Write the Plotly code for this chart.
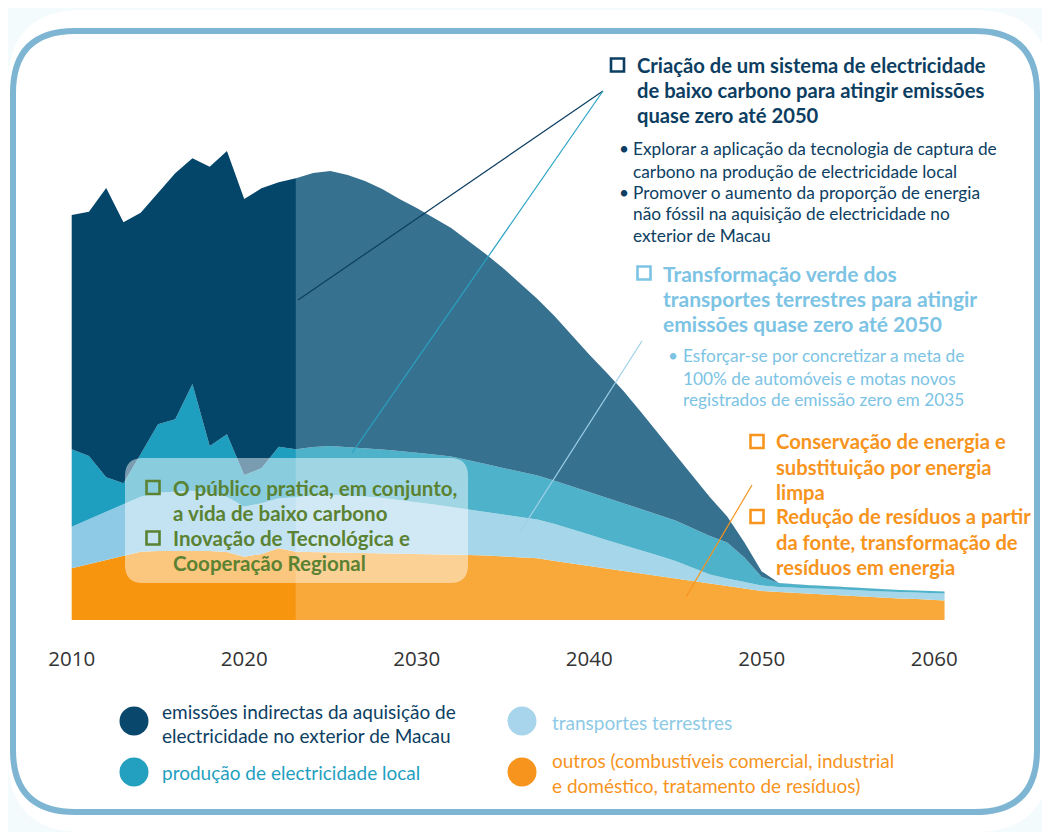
import plotly.graph_objects as go

# The page adds an 8px body margin, so the figure is drawn 8px in from the window.
OFF = 8
W, H = 1050 - OFF, 832 - OFF

# ---------------- data (arbitrary emission units) ----------------
years_hist = list(range(2010, 2024))
hist_other = [51.7, 56, 60, 64, 68.3, 69, 69, 69, 69, 68, 63.3, 66, 71.7, 68.3]
hist_transport = [41.6, 45, 48.3, 52, 55, 58.3, 59.5, 60.3, 58, 55.3, 50, 50.7, 50, 54.4]
hist_local = [77.4, 63, 34.4, 20.7, 42.7, 68.4, 72.2, 106.7, 47, 62.4, 31.7, 35, 51.6, 48]
hist_import = [234.3, 244.3, 289.3, 261, 241.3, 231.6, 246, 225.7, 279.3, 283.3, 276, 280, 264.4, 271]

years_proj = list(range(2023, 2061)) + [2060.6]
proj_other = [68.3, 68, 67.5, 67.5, 67, 67, 66.5, 66.5, 66, 65.5, 65, 64.5, 63.5, 62.7, 61.7,
              59, 56.5, 54, 51.5, 49, 46.5, 43.5, 41, 38.5, 36, 33.5, 31, 29,
              28, 27, 26, 25, 24, 23, 22, 21.5, 21, 20, 19.5]
proj_transport = [54.4, 56.5, 57.5, 57, 56.5, 55, 53.5, 51.5, 49.5, 47.5, 45.5, 43.5, 42, 40.3, 38.8,
                  37, 34.5, 31.5, 28.5, 26, 23, 21, 18, 13.5, 9.5, 8, 7, 5.5,
                  5, 5, 5.5, 6, 6, 6, 6.5, 6.5, 6.5, 7, 7]
proj_local = [48, 48.5, 49, 48.5, 48.2, 48.4, 49, 49.5, 49.9, 50.4, 49.5, 48, 46.5, 45.3, 44,
              43.3, 42.7, 42.7, 42.6, 42, 41.7, 40.8, 40.4, 39.9, 38.5, 35.9, 24.4, 8.5,
              4, 3.5, 3, 2.5, 2.5, 2.5, 2, 2, 2, 2, 2]
proj_import = [271, 274, 275, 272, 267.3, 260.6, 252, 244.5, 236.6, 228.6, 219, 210, 200, 187.7, 176.5,
               164.4, 150.8, 137.4, 124.9, 111.8, 96.8, 81.7, 66.6, 52.1, 38.7, 26.1, 15.2, 5.6,
               0, 0, 0, 0, 0, 0, 0, 0, 0, 0, 0]

tick_years = [2010, 2020, 2030, 2040, 2050, 2060]
tick_labels = ["2010", "2020", "2030", "2040", "2050", "2060"]

legend_labels = [
    ["emissões indirectas da aquisição de", "electricidade no exterior de Macau"],
    ["transportes terrestres"],
    ["produção de electricidade local"],
    ["outros (combustíveis comercial, industrial", "e doméstico, tratamento de resíduos)"],
]

# ---------------- colours ----------------
C_HIST = {"import": "#04456a", "local": "#1f9fbf", "transport": "#8ecae6", "other": "#f8950f"}
C_PROJ = {"import": "#36718f", "local": "#4db2ca", "transport": "#a6d6ea", "other": "#f9a93a"}
NAVY = "#0c3e62"
LBLUE = "#7cc3e4"
ORANGE = "#f7941d"
GREEN = "#5a8232"
FONT = "Lato"

fig = go.Figure()

for grp, yrs, series, cols in [
    ("hist", years_hist, [hist_other, hist_transport, hist_local, hist_import], C_HIST),
    ("proj", years_proj, [proj_other, proj_transport, proj_local, proj_import], C_PROJ),
]:
    for key, vals in zip(["other", "transport", "local", "import"], series):
        fig.add_trace(go.Scatter(
            x=yrs, y=vals, stackgroup=grp, mode="lines",
            line=dict(width=0, color=cols[key]), fillcolor=cols[key],
            showlegend=False, hoverinfo="skip"))

# screen pixel -> paper helpers (plot area spans full width, top .. bottom at screen y=620)
BOT = 620.0 - OFF
def px(x):
    return (x - OFF) / W
def py(y):
    return (BOT - (y - OFF)) / BOT

shapes = []
annotations = []

def rrect(x0, y0, x1, y1, r):
    X0, X1 = px(x0), px(x1)
    rx = r / W
    ry = r / BOT
    Y0, Y1 = py(y0), py(y1)
    return (f"M {X0+rx},{Y0} L {X1-rx},{Y0} Q {X1},{Y0} {X1},{Y0-ry} "
            f"L {X1},{Y1+ry} Q {X1},{Y1} {X1-rx},{Y1} L {X0+rx},{Y1} Q {X0},{Y1} {X0},{Y1+ry} "
            f"L {X0},{Y0-ry} Q {X0},{Y0} {X0+rx},{Y0} Z")

shapes.append(dict(type="path", xref="paper", yref="paper", path=rrect(OFF, 10, 1050, 832, 75),
                   fillcolor="white", line=dict(width=0), layer="below"))
shapes.append(dict(type="path", xref="paper", yref="paper", path=rrect(13, 31, 1037, 812, 62),
                   fillcolor="rgba(0,0,0,0)", line=dict(width=6, color="#7db5d3"), layer="below"))

# translucent box
shapes.append(dict(type="path", xref="paper", yref="paper", path=rrect(125, 458, 468, 583, 18),
                   fillcolor="rgba(255,255,255,0.47)", line=dict(width=0), layer="above"))

# leader lines
for (x0, y0, x1, y1, c) in [
    (298, 300, 603, 91, NAVY),
    (352, 453, 603, 91, "#2aa3c4"),
    (520, 532, 642, 341, "#9fd0e8"),
    (686, 597, 752, 485, ORANGE),
]:
    shapes.append(dict(type="line", xref="paper", yref="paper", x0=px(x0), y0=py(y0),
                       x1=px(x1), y1=py(y1), line=dict(width=1.2, color=c), layer="above"))

def checkbox(cx, cy, color, s=13):
    shapes.append(dict(type="rect", xref="paper", yref="paper",
                       x0=px(cx - s / 2), x1=px(cx + s / 2), y0=py(cy + s / 2), y1=py(cy - s / 2),
                       line=dict(width=2.6, color=color), fillcolor="rgba(0,0,0,0)", layer="above"))

def text(x, y, t, color, size, bold=False):
    annotations.append(dict(x=px(x), y=py(y), xref="paper", yref="paper", xanchor="left",
                            yanchor="middle", text=t, showarrow=False, align="left",
                            font=dict(family=FONT, size=size, color=color,
                                      weight=700 if bold else 400)))

BS = 17.3   # bullet size

# block 1: electricity
checkbox(617.5, 65, NAVY)
for t, y in zip(["Criação de um sistema de electricidade",
                 "de baixo carbono para atingir emissões",
                 "quase zero até 2050"], [65, 90, 115]):
    text(635, y, t, NAVY, 20.2, True)
for t, y, b in zip(["Explorar a aplicação da tecnologia de captura de",
                    "carbono na produção de electricidade local",
                    "Promover o aumento da proporção de energia",
                    "não fóssil na aquisição de electricidade no",
                    "exterior de Macau"], [149, 171, 192, 213.5, 235.5],
                   [True, False, True, False, False]):
    if b:
        text(617, y, "•", NAVY, BS)
    text(631, y, t, NAVY, BS)

# block 2: transport
checkbox(644, 273, LBLUE)
for t, y in zip(["Transformação verde dos",
                 "transportes terrestres para atingir",
                 "emissões quase zero até 2050"], [273, 298.5, 323.5]):
    text(661, y, t, LBLUE, 21, True)
for t, y, b in zip(["Esforçar-se por concretizar a meta de",
                    "100% de automóveis e motas novos",
                    "registrados de emissão zero em 2035"], [355, 378, 400], [True, False, False]):
    if b:
        text(666, y, "•", LBLUE, BS)
    text(681, y, t, LBLUE, BS)

# block 3: others
checkbox(757, 441.5, ORANGE)
checkbox(757, 516.5, ORANGE)
for t, y in zip(["Conservação de energia e", "substituição por energia", "limpa",
                 "Redução de resíduos a partir", "da fonte, transformação de",
                 "resíduos em energia"], [441.5, 466.5, 491.5, 516.5, 541.5, 566.5]):
    text(774, y, t, ORANGE, 20.2, True)

# block 4: green box
checkbox(153, 487.5, GREEN)
checkbox(153, 538, GREEN)
for t, y in zip(["O público pratica, em conjunto,", "a vida de baixo carbono",
                 "Inovação de Tecnológica e", "Cooperação Regional"],
                [488, 513, 538, 563]):
    text(171, y, t, GREEN, 20.5, True)

# legend (custom)
leg_specs = [
    (134, 721, "#0a476c", "#0c3e62", 160, [711, 735]),
    (522, 721, "#a8d5ec", "#8ecae6", 550, [722]),
    (134, 772, "#23a0bf", "#1f9fbf", 160, [772]),
    (522, 772, "#f7941d", "#f7941d", 550, [760, 785]),
]
for (cx, cy, cc, tc, tx, ys), lines in zip(leg_specs, legend_labels):
    r = 14.5
    shapes.append(dict(type="circle", xref="paper", yref="paper",
                       x0=px(cx - r), x1=px(cx + r), y0=py(cy + r), y1=py(cy - r),
                       fillcolor=cc, line=dict(width=0), layer="above"))
    for t, y in zip(lines, ys):
        text(tx, y, t, tc, 19)

x0_year = 2010 - (71.7 - OFF) / 17.25
x1_year = 2010 + (1050 - 71.7) / 17.25

fig.update_layout(
    width=W, height=H, autosize=False,
    margin=dict(l=0, r=0, t=0, b=H - BOT, pad=0),
    paper_bgcolor="#f4fbfd", plot_bgcolor="rgba(0,0,0,0)",
    showlegend=False,
    xaxis=dict(range=[x0_year, x1_year], tickmode="array", tickvals=tick_years,
               ticktext=tick_labels, showgrid=False, zeroline=False, showline=False,
               ticks="outside", ticklen=20, tickcolor="rgba(0,0,0,0)",
               tickfont=dict(family="Open Sans", size=20.5, color="#333333")),
    yaxis=dict(range=[0, BOT], visible=False, fixedrange=True),
    shapes=shapes, annotations=annotations,
)

fig.write_html("out.html")
